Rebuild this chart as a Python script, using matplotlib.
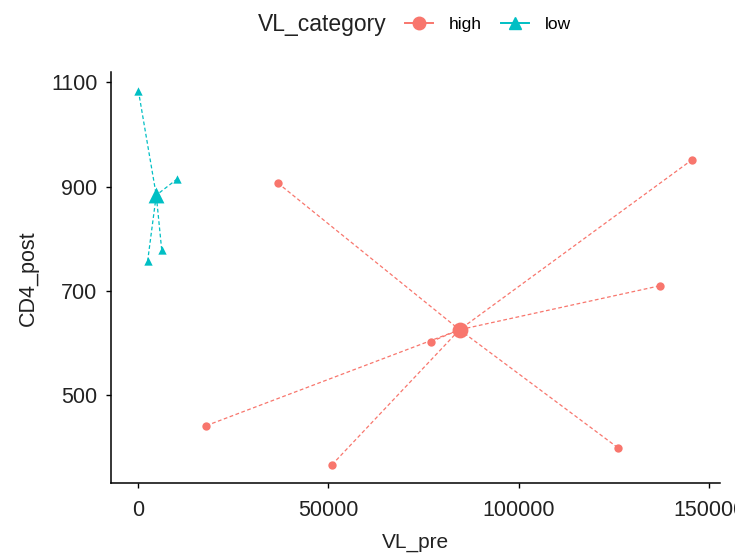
import numpy as np
import matplotlib
matplotlib.use("Agg")
import matplotlib.pyplot as plt
from matplotlib.lines import Line2D

plt.rcParams['font.family'] = ['Liberation Sans', 'DejaVu Sans']

# data
high_vl = [18000, 51000, 77000, 126000, 137000, 145600, 36800]
high_cd4 = [442, 367, 603, 400, 710, 952, 907]
low_vl = [180, 10400, 2600, 6300]
low_cd4 = [1084, 915, 757, 779]

categories = ['high', 'low']
colors = {'high': '#F8766D', 'low': '#00BFC4'}
markers = {'high': 'o', 'low': '^'}
groups = {'high': (high_vl, high_cd4), 'low': (low_vl, low_cd4)}

x_ticks = [0, 50000, 100000, 150000]
y_ticks = [500, 700, 900, 1100]

fig = plt.figure(figsize=(7.35, 5.57), dpi=100)
ax = fig.add_axes([0.1506, 0.132, 0.829, 0.7387])

for cat in categories:
    xs, ys = groups[cat]
    cx, cy = np.mean(xs), np.mean(ys)
    # star lines from each point to the group centroid
    for x, y in zip(xs, ys):
        ax.plot([x, cx], [y, cy], color=colors[cat], lw=0.9,
                linestyle=(0, (3, 2)), zorder=1)
    ax.scatter(xs, ys, color=colors[cat], marker=markers[cat], s=36,
               zorder=2, linewidths=0)
    ax.scatter([cx], [cy], color=colors[cat], marker=markers[cat], s=130,
               zorder=3, linewidths=0)

# ggplot-like 5% expansion
allx = high_vl + low_vl
ally = high_cd4 + low_cd4
rx = max(allx) - min(allx)
ry = max(ally) - min(ally)
ax.set_xlim(min(allx) - 0.05 * rx, max(allx) + 0.05 * rx)
ax.set_ylim(min(ally) - 0.05 * ry, max(ally) + 0.05 * ry)

ax.set_xticks(x_ticks)
ax.set_xticklabels([str(t) for t in x_ticks])
ax.set_yticks(y_ticks)
ax.set_yticklabels([str(t) for t in y_ticks])
ax.tick_params(axis='both', labelsize=15.5, length=3.6, width=1,
               color='black', labelcolor='#222222')
ax.tick_params(axis='x', pad=8)
ax.tick_params(axis='y', pad=6)

for s in ['top', 'right']:
    ax.spines[s].set_visible(False)
for s in ['left', 'bottom']:
    ax.spines[s].set_linewidth(1.1)

ax.set_xlabel('VL_pre', fontsize=15, labelpad=9, color='#222222')
ax.set_ylabel('CD4_post', fontsize=15.5, labelpad=9, color='#222222')

# legend on top, title inline
fig.text(258 / 735, 1 - 24 / 557, 'VL_category', fontsize=16.5,
         ha='left', va='center', color='#222222')
handles = [Line2D([0], [0], color=colors[c], marker=markers[c], markersize=9,
                  lw=1.4) for c in categories]
fig.legend(handles, categories, loc='center left',
           bbox_to_anchor=(405 / 735, 1 - 24 / 557), ncol=2, frameon=False,
           fontsize=12.5, handlelength=1.6, handletextpad=0.9,
           columnspacing=1.15, borderaxespad=0, borderpad=0)

fig.savefig('out.png', dpi=100)
